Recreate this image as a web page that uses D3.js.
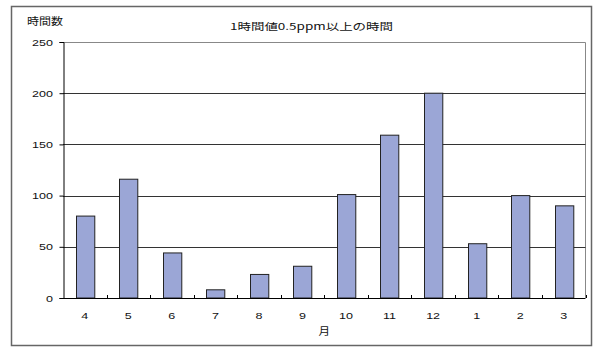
<!DOCTYPE html>
<html>
<head>
<meta charset="utf-8">
<script src="https://cdn.jsdelivr.net/npm/d3@7"></script>
<style>
  html, body { margin: 0; padding: 0; background: #fff; }
  svg text { fill: #111; }
</style>
</head>
<body>
<svg id="chart" width="596" height="347"></svg>
<script>
// Monthly hours with 1-hour values of 0.5 ppm or more (fiscal year, April–March)
const months = ["4", "5", "6", "7", "8", "9", "10", "11", "12", "1", "2", "3"];
const hours = [80, 116, 44, 8, 23, 31, 101, 159, 200, 53, 100, 90];
const yTicks = [0, 50, 100, 150, 200, 250];

const svg = d3.select("#chart");
const plot = { left: 63, right: 585.5, top: 42, bottom: 298 };
const latin = "'Liberation Sans', Arial, sans-serif";
const cjk = "'Noto Sans CJK JP', sans-serif";

// wide-set label text (glyphs stretched horizontally)
function wideText(g, x, y, str, anchor, size, family, sx) {
  return g.append("text")
    .attr("transform", `translate(${x},${y}) scale(${sx},1)`)
    .attr("text-anchor", anchor)
    .attr("font-size", size)
    .attr("font-family", family)
    .text(str);
}

// outer frame
svg.append("rect")
  .attr("x", 11.5).attr("y", 6.5)
  .attr("width", 580).attr("height", 339)
  .attr("fill", "#fff")
  .attr("stroke", "#666").attr("stroke-width", 1.5);

const x = d3.scaleBand()
  .domain(months)
  .range([plot.left, plot.right])
  .paddingInner(0.58).paddingOuter(0.29);

const xStep = d3.scaleBand().domain(months).range([plot.left, plot.right]);

const y = d3.scaleLinear().domain([0, 250]).range([plot.bottom, plot.top]);

// plot border (top and right)
svg.append("path")
  .attr("d", `M${plot.left},${plot.top + 0.5}H${plot.right}V${plot.bottom}`)
  .attr("fill", "none").attr("stroke", "#888").attr("stroke-width", 1);

// horizontal gridlines
svg.append("g")
  .selectAll("line")
  .data(yTicks.filter(t => t > 0 && t < 250))
  .join("line")
  .attr("x1", plot.left).attr("x2", plot.right)
  .attr("y1", d => Math.round(y(d)) + 0.5).attr("y2", d => Math.round(y(d)) + 0.5)
  .attr("stroke", "#333").attr("stroke-width", 1);

// bars
svg.append("g")
  .selectAll("rect")
  .data(months.map((m, i) => ({ m, v: hours[i] })))
  .join("rect")
  .attr("x", d => Math.round(x(d.m)) + 0.5)
  .attr("y", d => y(d.v))
  .attr("width", x.bandwidth())
  .attr("height", d => plot.bottom - y(d.v))
  .attr("fill", "#9ba6d6")
  .attr("stroke", "#222").attr("stroke-width", 1);

// y axis line and ticks
const gy = svg.append("g")
  .attr("transform", `translate(${plot.left + 0.5},0)`)
  .call(d3.axisLeft(y).tickValues(yTicks).tickSize(4).tickFormat(""));
gy.select(".domain").attr("stroke", "#000");
gy.selectAll(".tick line").attr("stroke", "#000");

const yLab = svg.append("g");
yTicks.forEach(t => wideText(yLab, 53, y(t) + 3.5, String(t), "end", 9.8, latin, 1.28));

// x axis: baseline with inward tick marks at category boundaries
svg.append("line")
  .attr("x1", plot.left).attr("x2", plot.right)
  .attr("y1", plot.bottom + 0.5).attr("y2", plot.bottom + 0.5)
  .attr("stroke", "#000");
svg.append("g")
  .selectAll("line")
  .data(months.slice(1).concat(["end"]))
  .join("line")
  .attr("x1", d => Math.round(d === "end" ? plot.right : xStep(d)) + 0.5)
  .attr("x2", d => Math.round(d === "end" ? plot.right : xStep(d)) + 0.5)
  .attr("y1", plot.bottom).attr("y2", plot.bottom - 3)
  .attr("stroke", "#000");

const xLab = svg.append("g");
months.forEach(m => wideText(xLab, xStep(m) + xStep.bandwidth() / 2, 318.7, m, "middle", 9.8, latin, 1.28));

// axis titles and chart title
wideText(svg, (plot.left + plot.right) / 2, 335, "月", "middle", 10, cjk, 1.15);

svg.append("text")
  .attr("x", 27).attr("y", 25)
  .attr("font-size", 10.5).attr("font-family", cjk)
  .attr("textLength", 36).attr("lengthAdjust", "spacingAndGlyphs")
  .text("時間数");

svg.append("text")
  .attr("x", 230).attr("y", 29.5)
  .attr("font-size", 9.5).attr("font-family", cjk)
  .attr("textLength", 163).attr("lengthAdjust", "spacingAndGlyphs")
  .text("1時間値0.5ppm以上の時間");
</script>
</body>
</html>
